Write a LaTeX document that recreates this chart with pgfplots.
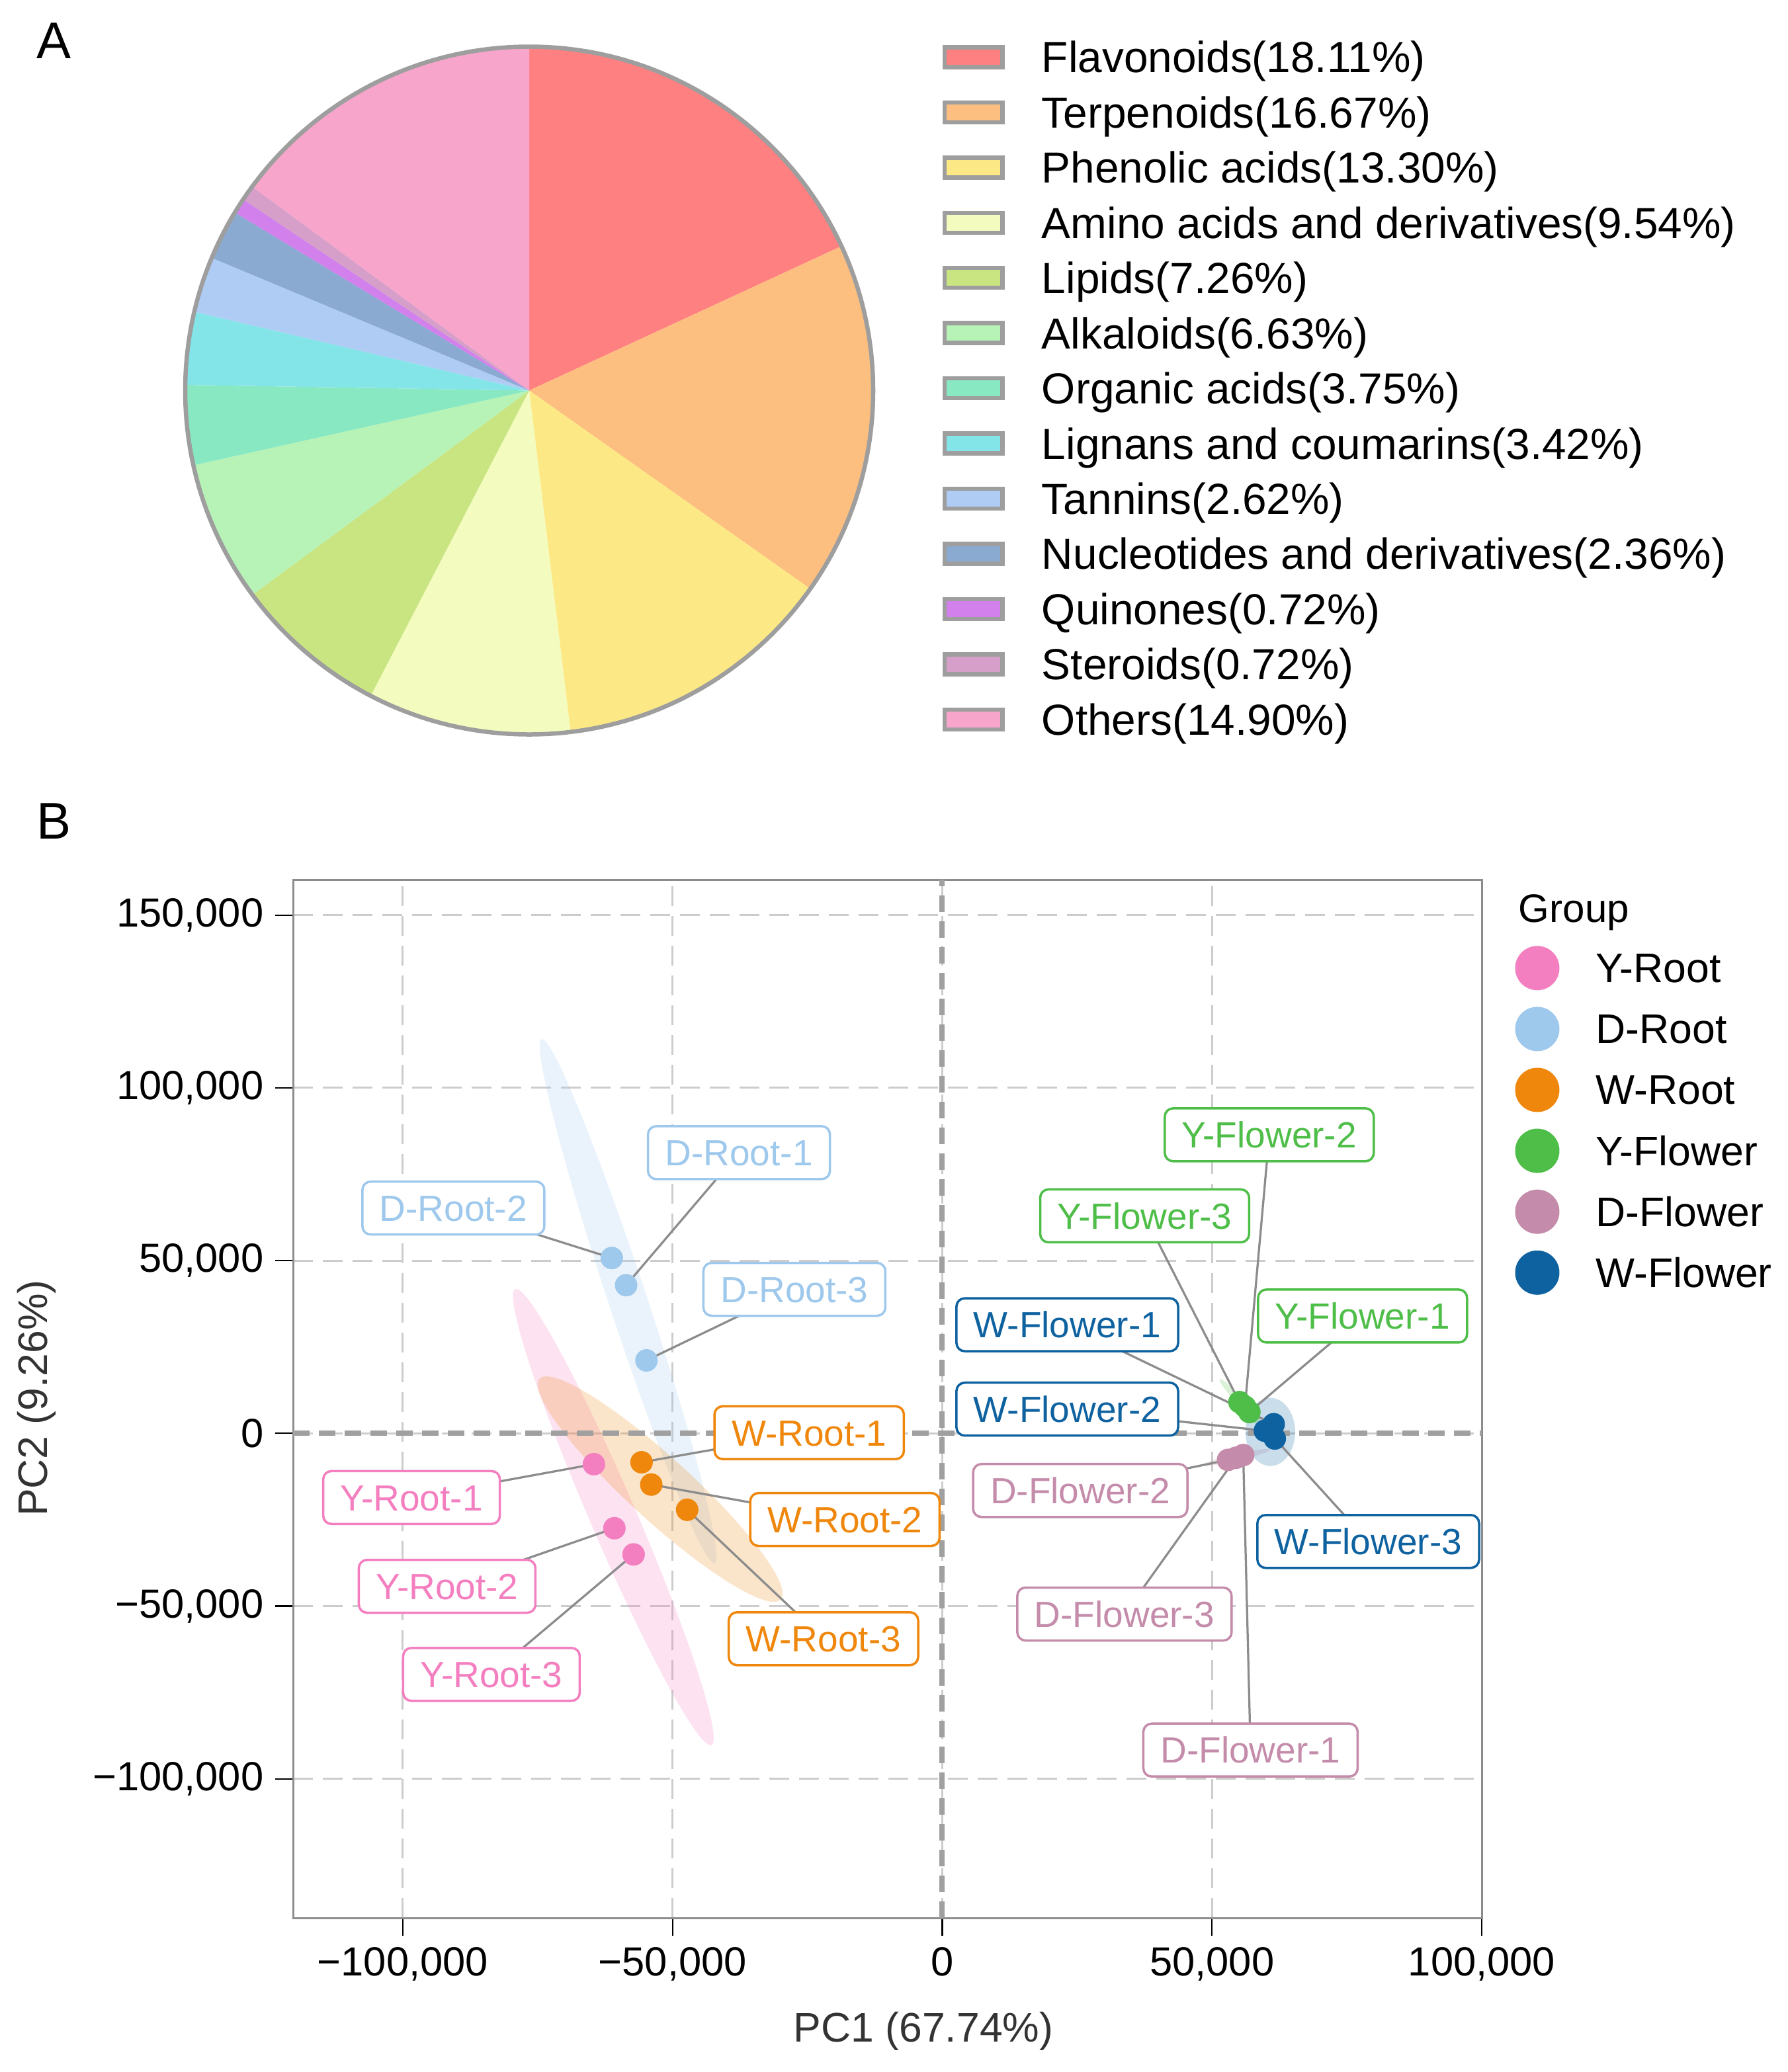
\documentclass[border=0pt]{standalone}
\usepackage{pgfplots}
\pgfplotsset{compat=1.18}
\usepackage{fontspec}
\setmainfont{Liberation Sans}

% pie colours
\definecolor{cFla}{RGB}{255,128,128}
\definecolor{cTer}{RGB}{253,191,128}
\definecolor{cPhe}{RGB}{252,233,134}
\definecolor{cAmi}{RGB}{244,251,190}
\definecolor{cLip}{RGB}{201,229,130}
\definecolor{cAlk}{RGB}{183,243,183}
\definecolor{cOrg}{RGB}{136,232,194}
\definecolor{cLig}{RGB}{132,229,233}
\definecolor{cTan}{RGB}{175,205,244}
\definecolor{cNuc}{RGB}{139,170,210}
\definecolor{cQui}{RGB}{209,128,236}
\definecolor{cSte}{RGB}{214,159,202}
\definecolor{cOth}{RGB}{247,165,202}
\definecolor{pieedge}{RGB}{158,158,158}
% group colours
\definecolor{yroot}{RGB}{244,127,192}
\definecolor{droot}{RGB}{158,200,236}
\definecolor{wroot}{RGB}{239,135,12}
\definecolor{yflower}{RGB}{78,190,72}
\definecolor{dflower}{RGB}{196,140,170}
\definecolor{wflower}{RGB}{14,98,160}
\definecolor{gridc}{RGB}{204,204,204}
\definecolor{zeroc}{RGB}{160,160,160}
\definecolor{framec}{RGB}{140,140,140}
\definecolor{segc}{RGB}{140,140,140}

\tikzset{lab/.style={draw=#1, text=#1, fill=white, line width=0.7pt, rounded corners=2.5pt,
  inner xsep=5.2pt, inner ysep=4.05pt, text height=7.9pt, text depth=0pt,
  font=\fontsize{11}{13}\selectfont}}

% confidence ellipse: colour, centre x, y, major half-axis dx, dy, conjugate half-axis dx, dy
\newcommand\confell[7]{%
  \pgfplotsextra{\begin{pgfscope}\pgfsetfillcolor{#1}\pgfsetfillopacity{0.22}%
  \pgfpathellipse{\pgfplotspointaxisxy{#2}{#3}}{\pgfplotspointaxisdirectionxy{#4}{#5}}{\pgfplotspointaxisdirectionxy{#6}{#7}}%
  \pgfusepath{fill}\end{pgfscope}}}
\newcommand\seg[4]{\draw[segc, line width=0.65pt] (axis cs:#1,#2) -- (axis cs:#3,#4);}

\begin{document}
\begin{tikzpicture}
\useasboundingbox (0,0) rectangle (540.6pt,-626.6pt);

% ---------- A: pie ----------
\begin{axis}[at={(160pt,-118.1pt)}, anchor=center, scale only axis,
  width=208pt, height=208pt, xmin=-1, xmax=1, ymin=-1, ymax=1,
  hide axis, clip=false]
\pgfplotsextra{
  \gdef\cum{0}
  \foreach \p/\c in {18.11/cFla, 16.67/cTer, 13.30/cPhe, 9.54/cAmi, 7.26/cLip,
      6.63/cAlk, 3.75/cOrg, 3.42/cLig, 2.62/cTan, 2.36/cNuc, 0.72/cQui, 0.72/cSte, 14.90/cOth}{
    \pgfmathsetmacro\s{90-3.6*\cum}
    \pgfmathsetmacro\e{90-3.6*(\cum+\p)}
    \fill[\c] (axis cs:0,0) -- ++(\s:104pt) arc[start angle=\s, end angle=\e, radius=104pt] -- cycle;
    \pgfmathsetmacro\nc{\cum+\p}
    \global\let\cum\nc
  }
  \draw[pieedge, line width=1.3pt] (axis cs:0,0) circle[radius=104pt];
}
\end{axis}

% ---------- B: PCA ----------
\begin{axis}[at={(88.6pt,-580pt)}, anchor=south west, scale only axis,
  width=359.4pt, height=314pt,
  xmin=-120350, xmax=100000, ymin=-140237, ymax=160260,
  xtick={-100000,-50000,0,50000,100000},
  xticklabels={{−100,000},{−50,000},{0},{50,000},{100,000}},
  ytick={-100000,-50000,0,50000,100000,150000},
  yticklabels={{−100,000},{−50,000},{0},{50,000},{100,000},{150,000}},
  tick pos=left, tick align=outside, major tick length=5.4pt,
  every tick/.style={black, line width=0.45pt},
  axis line style={framec, line width=0.6pt},
  grid=major, major grid style={gridc, line width=0.6pt, dash pattern=on 6pt off 3pt},
  ticklabel style={font=\fontsize{12.3}{14}\selectfont, text=black},
  scaled ticks=false]

% ellipses
\confell{droot}{-58239}{38248}{-16023}{75822}{3377}{1739}
\confell{yroot}{-60978}{-24215}{-18188}{65992}{3942}{2648}
\confell{wroot}{-52299}{-16136}{-22370}{31928}{3930}{6711}
\confell{yflower}{56042}{7651}{-4613}{8086}{549}{764}
\confell{dflower}{54410}{-7000}{6405}{2314}{-138}{933}
\confell{wflower}{60814}{421}{0}{9858}{4598}{0}

% zero lines
\addplot[zeroc, line width=1.6pt, dash pattern=on 5pt off 2.8pt] coordinates {(-120350,0) (100000,0)};
\addplot[zeroc, line width=1.6pt, dash pattern=on 5pt off 2.8pt] coordinates {(0,-140237) (0,160260)};

% label segments
\seg{-58607}{42879}{-37690}{81240}
\seg{-61268}{50750}{-90633}{65199}
\seg{-54843}{21114}{-27415}{41692}
\seg{-55748}{-8365}{-24669}{191}
\seg{-53948}{-14818}{-18048}{-24923}
\seg{-47290}{-22113}{-22021}{-59418}
\seg{-64578}{-8920}{-98382}{-18568}
\seg{-60777}{-27450}{-91785}{-44257}
\seg{-57220}{-35034}{-83570}{-69755}
\seg{56928}{6164}{77906}{33959}
\seg{56110}{7754}{60618}{86409}
\seg{55088}{9036}{37518}{62940}
\seg{61432}{2660}{23173}{31432}
\seg{59802}{746}{23173}{7006}
\seg{61636}{-1493}{78960}{-31279}
\seg{55787}{-6279}{57136}{-91654}
\seg{52967}{-7677}{25576}{-16539}
\seg{54475}{-7045}{33767}{-52297}

% samples
\addplot[only marks, mark=*, mark size=3.2pt, color=yroot, mark options={draw=none}]
  coordinates {(-64578,-8920) (-60777,-27450) (-57220,-35034)};
\addplot[only marks, mark=*, mark size=3.2pt, color=droot, mark options={draw=none}]
  coordinates {(-58607,42879) (-61268,50750) (-54843,21114)};
\addplot[only marks, mark=*, mark size=3.2pt, color=wroot, mark options={draw=none}]
  coordinates {(-55748,-8365) (-53948,-14818) (-47290,-22113)};
\addplot[only marks, mark=*, mark size=3.2pt, color=yflower, mark options={draw=none}]
  coordinates {(56928,6164) (56110,7754) (55088,9036)};
\addplot[only marks, mark=*, mark size=3.2pt, color=dflower, mark options={draw=none}]
  coordinates {(55787,-6279) (52967,-7677) (54475,-7045)};
\addplot[only marks, mark=*, mark size=3.2pt, color=wflower, mark options={draw=none}]
  coordinates {(61432,2660) (59802,746) (61636,-1493)};

% labels
\node[lab=droot] at (axis cs:-37690,81240) {D-Root-1};
\node[lab=droot] at (axis cs:-90633,65199) {D-Root-2};
\node[lab=droot] at (axis cs:-27415,41692) {D-Root-3};
\node[lab=wroot] at (axis cs:-24669,191) {W-Root-1};
\node[lab=wroot] at (axis cs:-18048,-24923) {W-Root-2};
\node[lab=wroot] at (axis cs:-22021,-59418) {W-Root-3};
\node[lab=yroot] at (axis cs:-98382,-18568) {Y-Root-1};
\node[lab=yroot] at (axis cs:-91785,-44257) {Y-Root-2};
\node[lab=yroot] at (axis cs:-83570,-69755) {Y-Root-3};
\node[lab=yflower] at (axis cs:77906,33959) {Y-Flower-1};
\node[lab=yflower] at (axis cs:60618,86409) {Y-Flower-2};
\node[lab=yflower] at (axis cs:37518,62940) {Y-Flower-3};
\node[lab=wflower] at (axis cs:23173,31432) {W-Flower-1};
\node[lab=wflower] at (axis cs:23173,7006) {W-Flower-2};
\node[lab=wflower] at (axis cs:78960,-31279) {W-Flower-3};
\node[lab=dflower] at (axis cs:57136,-91654) {D-Flower-1};
\node[lab=dflower] at (axis cs:25576,-16539) {D-Flower-2};
\node[lab=dflower] at (axis cs:33767,-52297) {D-Flower-3};
\end{axis}

% ---------- legends, titles, panel letters ----------
\begin{scope}[x=0.4pt, y=-0.4pt]
\node[inner sep=0pt, font=\fontsize{15.6}{18}\selectfont] at (41,31) {A};
\node[inner sep=0pt, font=\fontsize{15.6}{18}\selectfont] at (41,621) {B};

\foreach \lab/\col [count=\i from 0] in {Flavonoids(18.11\%)/cFla, Terpenoids(16.67\%)/cTer,
    Phenolic acids(13.30\%)/cPhe, Amino acids and derivatives(9.54\%)/cAmi, Lipids(7.26\%)/cLip,
    Alkaloids(6.63\%)/cAlk, Organic acids(3.75\%)/cOrg, Lignans and coumarins(3.42\%)/cLig,
    Tannins(2.62\%)/cTan, Nucleotides and derivatives(2.36\%)/cNuc, Quinones(0.72\%)/cQui,
    Steroids(0.72\%)/cSte, Others(14.90\%)/cOth}{
  \draw[pieedge, line width=1.3pt, fill=\col] (714,{43.2+41.73*\i-7.5}) rectangle (757.7,{43.2+41.73*\i+7.5});
  \node[anchor=base west, inner sep=0pt, font=\fontsize{13.15}{15}\selectfont] at (787,{43.2+41.73*\i+11.7}) {\lab};
}

\node[anchor=base west, inner sep=0pt, font=\fontsize{12}{14}\selectfont] at (1147.5,697) {Group};
\foreach \lab/\col [count=\i from 0] in {Y-Root/yroot, D-Root/droot, W-Root/wroot,
    Y-Flower/yflower, D-Flower/dflower, W-Flower/wflower}{
  \fill[\col] (1162,{731.9+46.05*\i}) circle[radius=6.7pt];
  \node[anchor=base west, inner sep=0pt, font=\fontsize{12.5}{14}\selectfont] at (1205.8,{731.9+46.05*\i+11}) {\lab};
}

\node[anchor=base, inner sep=0pt, text=black!80, font=\fontsize{12.5}{15}\selectfont] at (698,1544) {PC1 (67.74\%)};
\node[rotate=90, anchor=base, inner sep=0pt, text=black!80, font=\fontsize{12.5}{15}\selectfont] at (36,1057) {PC2 (9.26\%)};
\end{scope}
\end{tikzpicture}
\end{document}
